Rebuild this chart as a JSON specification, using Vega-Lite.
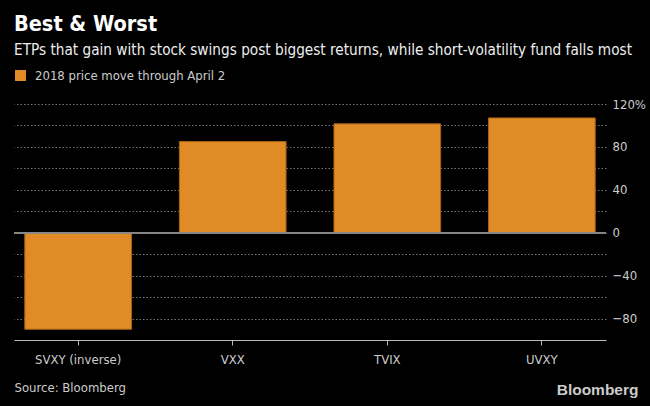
{
  "$schema": "https://vega.github.io/schema/vega-lite/v6.json",
  "width": 592,
  "height": 236,
  "autosize": {"type": "none"},
  "padding": {"left": 14, "top": 104, "right": 44, "bottom": 66},
  "background": "#000000",
  "title": {
    "text": "Best & Worst",
    "subtitle": "ETPs that gain with stock swings post biggest returns, while short-volatility fund falls most",
    "anchor": "start",
    "frame": "group",
    "font": "DejaVu Sans Condensed",
    "fontSize": 21.5,
    "fontWeight": "bold",
    "color": "#ffffff",
    "subtitleFont": "DejaVu Sans Condensed",
    "subtitleFontSize": 15.2,
    "subtitleColor": "#eeeeee",
    "subtitlePadding": 7,
    "offset": 11
  },
  "data": {
    "values": [
      {"fund": "SVXY (inverse)", "move": -90, "series": "2018 price move through April 2"},
      {"fund": "VXX", "move": 85, "series": "2018 price move through April 2"},
      {"fund": "TVIX", "move": 101.5, "series": "2018 price move through April 2"},
      {"fund": "UVXY", "move": 107, "series": "2018 price move through April 2"}
    ]
  },
  "resolve": {"axis": {"y": "independent"}},
  "layer": [
    {
      "mark": {"type": "bar", "stroke": "#a8621a", "strokeWidth": 1},
      "encoding": {
        "x": {
          "field": "fund",
          "type": "nominal",
          "sort": null,
          "scale": {"paddingInner": 0.31, "paddingOuter": 0.07},
          "axis": {
            "title": "Source: Bloomberg",
            "titleAnchor": "start",
            "titleAlign": "left",
            "titleFont": "DejaVu Sans Condensed",
            "titleFontSize": 13,
            "titleFontWeight": "normal",
            "titleColor": "#cccccc",
            "titlePadding": 15,
            "labelAngle": 0,
            "labelFont": "DejaVu Sans Condensed",
            "labelFontSize": 13,
            "labelColor": "#cccccc",
            "labelPadding": 8,
            "domainColor": "#bbbbbb",
            "tickColor": "#bbbbbb",
            "tickSize": 5,
            "grid": false
          }
        },
        "y": {
          "field": "move",
          "type": "quantitative",
          "scale": {"domain": [-100, 120], "nice": false},
          "axis": {
            "orient": "right",
            "values": [-80, -40, 0, 40, 80, 120],
            "labelExpr": "datum.value == 120 ? '120%' : datum.label",
            "labelOverlap": false,
            "labelFont": "DejaVu Sans Condensed",
            "labelFontSize": 13,
            "labelColor": "#cccccc",
            "labelPadding": 6,
            "labelAlign": "left",
            "ticks": false,
            "domain": false,
            "grid": false,
            "title": "Bloomberg",
            "titleAngle": 0,
            "titleAlign": "right",
            "titleBaseline": "alphabetic",
            "titleFont": "Liberation Sans",
            "titleFontSize": 15.5,
            "titleFontWeight": "bold",
            "titleColor": "#cccccc",
            "titleX": 32,
            "titleY": 290
          }
        },
        "color": {
          "field": "series",
          "type": "nominal",
          "scale": {"range": ["#e08b25"]},
          "legend": {
            "title": null,
            "orient": "none",
            "legendX": 0,
            "legendY": -35,
            "symbolType": "square",
            "symbolSize": 120,
            "symbolStrokeWidth": 0,
            "labelFont": "DejaVu Sans Condensed",
            "labelFontSize": 13,
            "labelColor": "#cccccc",
            "labelOffset": 8,
            "labelLimit": 400
          }
        }
      }
    },
    {
      "mark": {"type": "rule", "color": "#888888", "strokeWidth": 1.5},
      "encoding": {
        "y": {
          "datum": 0,
          "axis": {
            "orient": "right",
            "values": [-80, -60, -40, -20, 0, 20, 40, 60, 80, 100, 120],
            "labels": false,
            "ticks": false,
            "domain": false,
            "title": null,
            "grid": true,
            "gridColor": "#777777",
            "gridDash": [1.5, 2],
            "zindex": 0
          }
        }
      }
    }
  ],
  "config": {"view": {"stroke": null}}
}
